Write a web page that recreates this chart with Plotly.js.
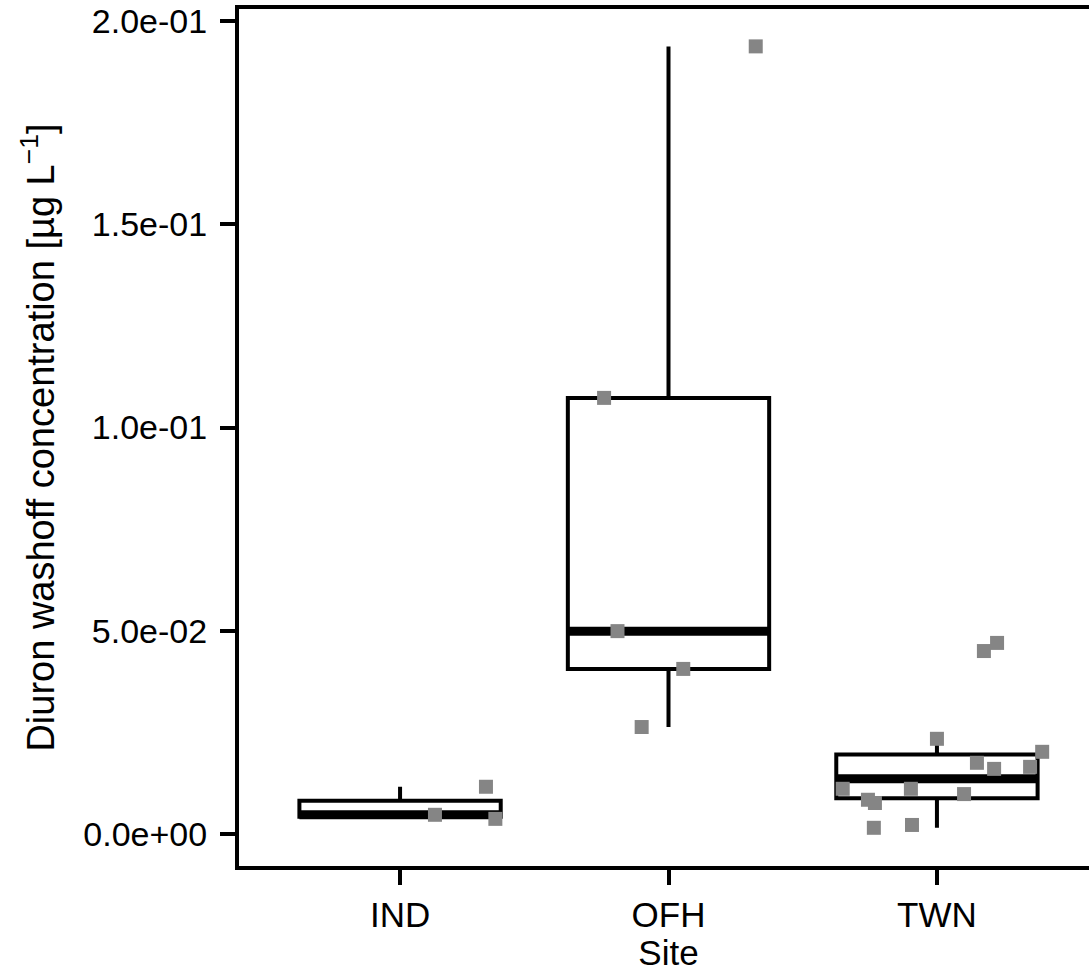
<!DOCTYPE html>
<html><head><meta charset="utf-8">
<script src="https://cdn.plot.ly/plotly-3.0.1.min.js"></script>
<style>html,body{margin:0;padding:0;overflow:hidden;background:#fff}#chart{width:1098px;height:972px}</style>
</head><body><div id="chart"></div>
<script>
// Categories
const sites = ['IND', 'OFH', 'TWN'];
const indValues = [0.0047, 0.0116, 0.0037];
const ofhValues = [0.1073, 0.0499, 0.0406, 0.0263, 0.1938];
const twnValues = [0.0450, 0.0470, 0.0234, 0.0202, 0.0175, 0.0160, 0.0165, 0.0111, 0.0111, 0.0098, 0.0084, 0.0076, 0.0015, 0.0022];
// Horizontal jitter of each point (category units)
const indJitter = [0.13, 0.32, 0.355];
const ofhJitter = [-0.24, -0.19, 0.055, -0.10, 0.325];
const twnJitter = [0.175, 0.224, 0.0, 0.392, 0.149, 0.213, 0.347, -0.351, -0.097, 0.101, -0.257, -0.231, -0.235, -0.093];
// Axis ticks
const yTickVals = [0, 0.05, 0.10, 0.15, 0.20];
const yTickText = ['0.0e+00', '5.0e-02', '1.0e-01', '1.5e-01', '2.0e-01'];

const groups = [indValues, ofhValues, twnValues];
const jitters = [indJitter, ofhJitter, twnJitter];

function quantile7(arr, p) {
  const s = arr.slice().sort((a, b) => a - b);
  const h = (s.length - 1) * p;
  const lo = Math.floor(h), hi = Math.ceil(h);
  return s[lo] + (h - lo) * (s[hi] - s[lo]);
}
const stats = groups.map(v => {
  const q1 = quantile7(v, 0.25), med = quantile7(v, 0.5), q3 = quantile7(v, 0.75);
  const iqr = q3 - q1;
  const up = Math.max(...v.filter(x => x <= q3 + 1.5 * iqr));
  const lo = Math.min(...v.filter(x => x >= q1 - 1.5 * iqr));
  return {q1, med, q3, up, lo};
});

const pos = sites.map((_, i) => i);
const boxW = 0.75;
const traces = [];
traces.push({
  type: 'box',
  x: pos,
  q1: stats.map(s => s.q1),
  median: stats.map(s => s.med),
  q3: stats.map(s => s.q3),
  lowerfence: stats.map(s => s.lo),
  upperfence: stats.map(s => s.up),
  width: boxW,
  whiskerwidth: 0,
  fillcolor: '#ffffff',
  line: {color: '#000000', width: 4},
  hoverinfo: 'skip',
  showlegend: false
});
// thick median lines
stats.forEach((s, i) => {
  traces.push({
    type: 'scatter', mode: 'lines',
    x: [i - boxW / 2, i + boxW / 2],
    y: [s.med, s.med],
    line: {color: '#000000', width: 9},
    hoverinfo: 'skip', showlegend: false
  });
});
// jittered points
const px = [], py = [];
groups.forEach((v, i) => v.forEach((val, j) => { px.push(i + jitters[i][j]); py.push(val); }));
traces.push({
  type: 'scatter', mode: 'markers',
  x: px, y: py,
  marker: {symbol: 'square', size: 14, color: '#858585'},
  showlegend: false
});

const font = {family: 'Liberation Sans, Arial, sans-serif', color: '#000000'};
const layout = {
  width: 1098, height: 972,
  margin: {l: 239, r: 0, t: 9, b: 106},
  paper_bgcolor: '#ffffff', plot_bgcolor: '#ffffff',
  font: Object.assign({size: 35}, font),
  showlegend: false,
  xaxis: {
    range: [-0.6, 2.6],
    tickvals: pos, ticktext: sites,
    showgrid: false, zeroline: false,
    showline: true, mirror: true, linecolor: '#000000', linewidth: 4,
    ticks: 'outside', ticklen: 15, tickwidth: 4, tickcolor: '#000000',
    tickfont: Object.assign({size: 35}, font),
    title: {text: 'Site', font: Object.assign({size: 35}, font), standoff: 2}
  },
  yaxis: {
    range: [-0.0079, 0.2030],
    tickvals: yTickVals, ticktext: yTickText,
    showgrid: false, zeroline: false,
    showline: true, mirror: true, linecolor: '#000000', linewidth: 4,
    ticks: 'outside', ticklen: 15, tickwidth: 4, tickcolor: '#000000',
    ticklabelstandoff: 6,
    tickfont: Object.assign({size: 34}, font),
    title: {text: 'Diuron washoff concentration [µg L<sup>−1</sup>]', font: Object.assign({size: 38}, font), standoff: 18}
  }
};
Plotly.newPlot('chart', traces, layout, {staticPlot: true, displayModeBar: false});
</script>
</body></html>
